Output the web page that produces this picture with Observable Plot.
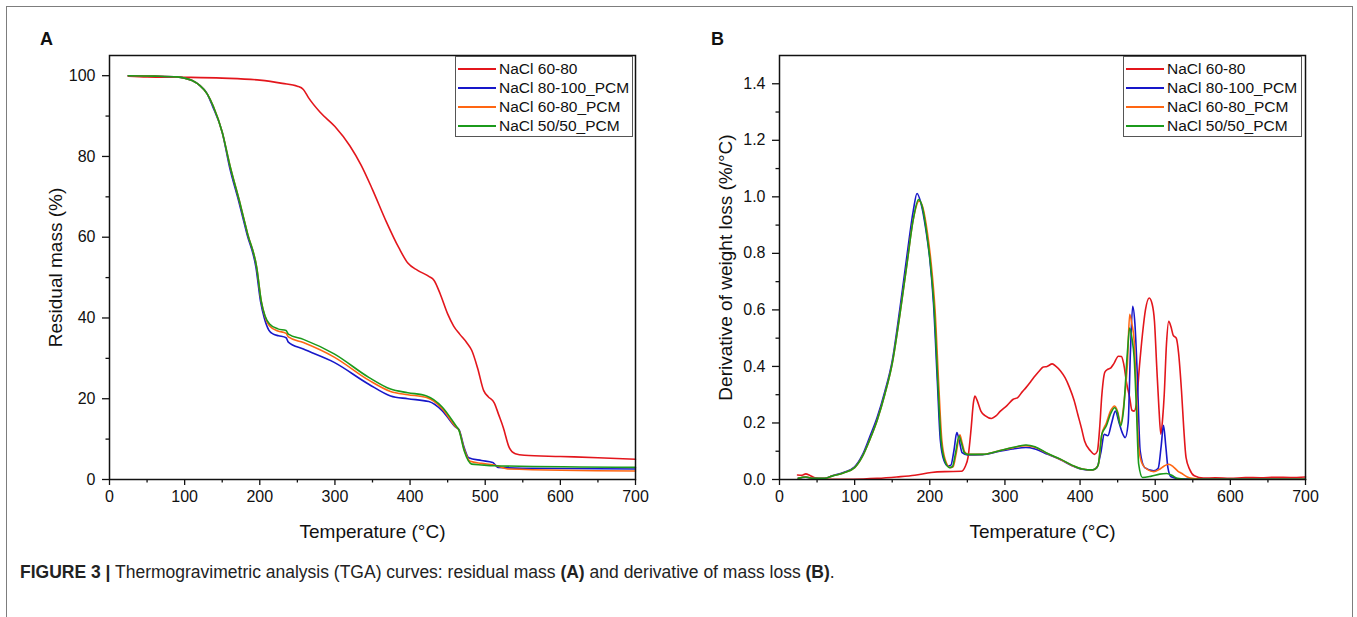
<!DOCTYPE html>
<html><head><meta charset="utf-8">
<script src="https://cdn.jsdelivr.net/npm/d3@7"></script>
<script src="https://cdn.jsdelivr.net/npm/@observablehq/plot@0.6"></script>
<style>
body{margin:0;background:#fff;font-family:"Liberation Sans",Arial,sans-serif;color:#111}
#page{position:relative;width:1357px;height:617px;overflow:hidden;background:#fff}
#frame{position:absolute;left:6px;top:6px;width:1347px;height:700px;border:1.5px solid #7d7d7d;box-sizing:border-box}
.panel{position:absolute;top:0}
.plabel{position:absolute;font-weight:bold;font-size:18px;top:29px}
.legend{position:absolute;border:1px solid #555;background:#fff;font-size:15.5px;box-sizing:border-box;padding-top:2px}
.legend .row{height:19px;display:flex;align-items:center;white-space:nowrap}
.legend svg{margin-left:2px;margin-right:3px}
#caption{position:absolute;left:20px;top:562px;font-size:17.5px;color:#222;white-space:nowrap}
</style></head>
<body>
<div id="page">
  <div id="frame"></div>
  <div id="panelA" class="panel" style="left:0px"></div>
  <div id="panelB" class="panel" style="left:670px"></div>
  <div class="plabel" style="left:40px">A</div>
  <div class="plabel" style="left:711px">B</div>
  <div id="legendA" class="legend" style="left:455px;top:56px;width:178px;height:81px"></div>
  <div id="legendB" class="legend" style="left:1123px;top:56px;width:179px;height:81px"></div>
  <div id="caption"><b>FIGURE 3 |</b> Thermogravimetric analysis (TGA) curves: residual mass <b>(A)</b> and derivative of mass loss <b>(B)</b>.</div>
</div>
<script>
// ---- data: series names & colours ----
const seriesNames = ["NaCl 60-80", "NaCl 80-100_PCM", "NaCl 60-80_PCM", "NaCl 50/50_PCM"];
const seriesColors = ["#e3161c", "#1717c9", "#ff6612", "#1b9a1b"];
const xTicksMajor = [0, 100, 200, 300, 400, 500, 600, 700];
const xTicksMinor = [50, 150, 250, 350, 450, 550, 650];
const yTicksA = [0, 20, 40, 60, 80, 100];
const yTicksAMinor = [10, 30, 50, 70, 90];
const yTicksB = [0, 0.2, 0.4, 0.6, 0.8, 1.0, 1.2, 1.4];
const yTicksBMinor = [0.1, 0.3, 0.5, 0.7, 0.9, 1.1, 1.3];
const xLabel = "Temperature (°C)";
const yLabelA = "Residual mass (%)";
const yLabelB = "Derivative of weight loss (%/°C)";

// ---- Panel A: residual mass (%) vs temperature ----
const massRed = [[25,99.9],[50,99.7],[100,99.6],[150,99.4],[200,98.9],[230,98.1],[250,97.4],[258,96.6],[265,94.5],[280,91],[300,87.4],[320,82.6],[335,77.8],[350,71.8],[368,64],[385,57.4],[397,53.6],[410,51.8],[425,50.3],[432,49.3],[440,46],[450,41],[458,38],[466,36],[475,34],[482,32],[490,27.5],[498,22],[504,20.5],[512,19],[518,16],[524,12.9],[532,7.9],[540,6.4],[552,6],[600,5.7],[650,5.4],[700,5.0]];
const massBlue = [[25,100],[60,99.9],[90,99.7],[100,99.4],[110,98.8],[120,97.6],[130,95.5],[137,92.5],[150,86],[160,77.2],[172,68.9],[183,60.7],[195,52.4],[201,44.1],[206,40],[212,37],[218,36],[225,35.6],[235,35.1],[238,34],[258,32.3],[299,29],[345,23.6],[374,20.7],[397,20],[425,19.3],[443,17],[461,12.9],[465,12.4],[472,7.9],[478,5.4],[495,4.7],[510,4.2],[513,3.7],[517,3.0],[550,2.8],[700,2.6]];
const massOrange = [[25,100],[60,99.9],[90,99.7],[100,99.4],[110,98.8],[120,97.6],[130,95.5],[138,92.5],[150,86],[161,77.2],[173,68.9],[184,60.7],[196,52.4],[202,44.1],[207,40.3],[213,38],[224,36.8],[235,36.2],[238,35.3],[258,33.9],[299,30.3],[345,24.6],[374,21.8],[397,21],[422,20.3],[443,17.5],[461,13],[465,12.3],[472,7.5],[480,4.5],[495,4],[512,3.6],[530,2.6],[700,2.1]];
const massGreen = [[25,100],[60,99.9],[90,99.7],[100,99.4],[110,98.8],[120,97.6],[130,95.5],[138,92.5],[150,86],[161,77.2],[173,68.9],[184,60.7],[196,52.4],[202,44.1],[207,40.5],[213,38.5],[224,37.3],[235,36.9],[238,36],[258,34.7],[299,31.1],[345,25.3],[374,22.4],[397,21.5],[422,20.7],[443,17.9],[461,13.3],[465,12.2],[472,7.1],[482,3.8],[495,3.6],[512,3.4],[700,3.0]];

// ---- Panel B: derivative of weight loss (%/°C) vs temperature ----
const dtgRed = [[24,0.016],[30,0.015],[35,0.02],[40,0.015],[46,0.007],[58,0.001],[98,0.001],[130,0.004],[156,0.009],[180,0.015],[202,0.025],[220,0.028],[242,0.029],[247,0.045],[251,0.08],[255,0.18],[258,0.27],[260,0.295],[263,0.28],[268,0.242],[274,0.225],[282,0.216],[288,0.225],[294,0.242],[303,0.262],[311,0.284],[317,0.29],[323,0.31],[328,0.325],[334,0.345],[340,0.366],[346,0.385],[351,0.398],[356,0.4],[363,0.409],[368,0.4],[374,0.384],[380,0.36],[386,0.325],[392,0.28],[397,0.23],[402,0.18],[406,0.136],[414,0.101],[419,0.089],[423,0.1],[426,0.18],[429,0.3],[433,0.38],[437,0.39],[441,0.395],[445,0.41],[451,0.436],[455,0.435],[458,0.41],[462,0.34],[466,0.29],[469,0.245],[472,0.242],[475,0.27],[479,0.4],[483,0.513],[487,0.6],[492,0.642],[496,0.62],[499,0.56],[502,0.4],[505,0.25],[507.5,0.16],[510,0.22],[512,0.3],[515,0.48],[518,0.56],[521,0.54],[524,0.51],[528,0.5],[531,0.45],[535,0.313],[538,0.18],[541,0.078],[546,0.035],[552,0.013],[564,0.005],[580,0.006],[600,0.004],[620,0.007],[640,0.006],[660,0.008],[680,0.007],[700,0.009]];
const dtgBlue = [[25,0.005],[35,0.008],[45,0.004],[60,0.004],[70,0.013],[85,0.025],[100,0.045],[110,0.085],[120,0.15],[130,0.22],[140,0.31],[150,0.42],[160,0.6],[170,0.8],[178,0.95],[183,1.012],[188,0.98],[195,0.88],[200,0.78],[205,0.62],[210,0.35],[214,0.14],[219,0.066],[224,0.048],[228,0.05],[232,0.1],[236,0.166],[239,0.14],[243,0.095],[250,0.087],[270,0.088],[290,0.098],[310,0.108],[328,0.113],[340,0.108],[357,0.089],[374,0.07],[390,0.048],[403,0.036],[415,0.033],[422,0.04],[428,0.1],[432,0.16],[437,0.155],[442,0.2],[447,0.242],[452,0.2],[457,0.16],[460,0.148],[464,0.2],[467,0.45],[470,0.613],[473,0.55],[476,0.38],[480,0.1],[486,0.042],[498,0.031],[504,0.04],[508,0.12],[511,0.192],[514,0.12],[517,0.04],[521,0.01],[535,0.002],[700,0.001]];
const dtgOrange = [[25,0.004],[35,0.009],[45,0.004],[60,0.004],[70,0.012],[85,0.023],[100,0.042],[110,0.08],[120,0.14],[130,0.21],[140,0.3],[150,0.41],[160,0.58],[170,0.77],[178,0.92],[186,0.985],[191,0.96],[197,0.87],[202,0.76],[207,0.6],[212,0.33],[216,0.14],[221,0.066],[227,0.042],[231,0.045],[235,0.09],[240,0.158],[243,0.13],[247,0.095],[251,0.089],[270,0.089],[290,0.1],[310,0.112],[328,0.12],[340,0.114],[357,0.091],[374,0.071],[390,0.049],[403,0.037],[417,0.034],[424,0.05],[429,0.16],[435,0.2],[441,0.245],[446,0.26],[450,0.24],[454,0.195],[458,0.26],[463,0.41],[466,0.584],[469,0.55],[472,0.49],[475,0.3],[478,0.113],[483,0.054],[490,0.035],[498,0.028],[505,0.035],[512,0.048],[518,0.054],[524,0.045],[530,0.03],[535,0.022],[542,0.01],[549,0.004],[560,0.001],[700,0.001]];
const dtgGreen = [[25,0.004],[35,0.009],[45,0.004],[60,0.004],[70,0.012],[85,0.023],[100,0.042],[110,0.08],[120,0.14],[130,0.21],[140,0.3],[150,0.41],[160,0.58],[170,0.77],[178,0.92],[185,0.99],[190,0.965],[196,0.87],[201,0.76],[206,0.6],[211,0.33],[215,0.14],[220,0.066],[226,0.042],[230,0.045],[234,0.09],[239,0.154],[242,0.13],[246,0.095],[250,0.089],[270,0.089],[290,0.1],[310,0.113],[328,0.122],[340,0.116],[357,0.092],[374,0.072],[390,0.05],[403,0.037],[417,0.034],[424,0.05],[429,0.16],[435,0.19],[441,0.235],[446,0.254],[450,0.235],[454,0.19],[458,0.25],[463,0.45],[466,0.536],[469,0.5],[472,0.43],[475,0.25],[478,0.054],[483,0.007],[495,0.012],[506,0.019],[515,0.021],[522,0.015],[529,0.004],[540,0.001],[700,0.001]];

const seriesA = [massRed, massBlue, massOrange, massGreen];
const seriesB = [dtgRed, dtgBlue, dtgOrange, dtgGreen];

function panel(series, yDomain, yMajor, yMinor, yFmt, yLabel) {
  return Plot.plot({
    width: 680, height: 560,
    marginLeft: 109, marginRight: 45, marginTop: 55, marginBottom: 81,
    x: {domain: [0, 700]},
    y: {domain: yDomain},
    style: {fontFamily: "Liberation Sans, Arial, sans-serif", fontSize: "16px", color: "#111", background: "transparent", overflow: "visible"},
    marks: [
      Plot.axisX({ticks: xTicksMajor, tickSize: 6, tickPadding: 5, label: null, fontSize: 16, strokeWidth: 1.3}),
      Plot.axisX({ticks: xTicksMinor, tickSize: 3.5, tickFormat: () => "", label: null, strokeWidth: 1.3}),
      Plot.axisY({ticks: yMajor, tickSize: 7, tickPadding: 7, tickFormat: yFmt, label: null, fontSize: 16, strokeWidth: 1.3}),
      Plot.axisY({ticks: yMinor, tickSize: 3.5, tickFormat: () => "", label: null, strokeWidth: 1.3}),
      ...series.map((s, i) => Plot.line(s, {x: d => d[0], y: d => d[1], stroke: seriesColors[i], strokeWidth: 1.6, curve: "monotone-x"})),
      Plot.frame({stroke: "#111", strokeWidth: 1.5}),
      Plot.text([xLabel], {text: d => d, frameAnchor: "bottom", textAnchor: "middle", dy: 58, fontSize: 19}),
      Plot.text([yLabel], {text: d => d, frameAnchor: "left", textAnchor: "middle", dx: -54, rotate: -90, fontSize: 19})
    ]
  });
}

document.getElementById("panelA").append(panel(seriesA, [0, 105], yTicksA, yTicksAMinor, d3.format("d"), yLabelA));
document.getElementById("panelB").append(panel(seriesB, [0, 1.5], yTicksB, yTicksBMinor, d3.format(".1f"), yLabelB));

function legend(el) {
  seriesNames.forEach((name, i) => {
    const row = document.createElement("div");
    row.className = "row";
    row.innerHTML = `<svg width="38" height="4"><line x1="0" x2="38" y1="2" y2="2" stroke="${seriesColors[i]}" stroke-width="1.8"/></svg><span>${name}</span>`;
    el.append(row);
  });
}
legend(document.getElementById("legendA"));
legend(document.getElementById("legendB"));
</script>
</body></html>
